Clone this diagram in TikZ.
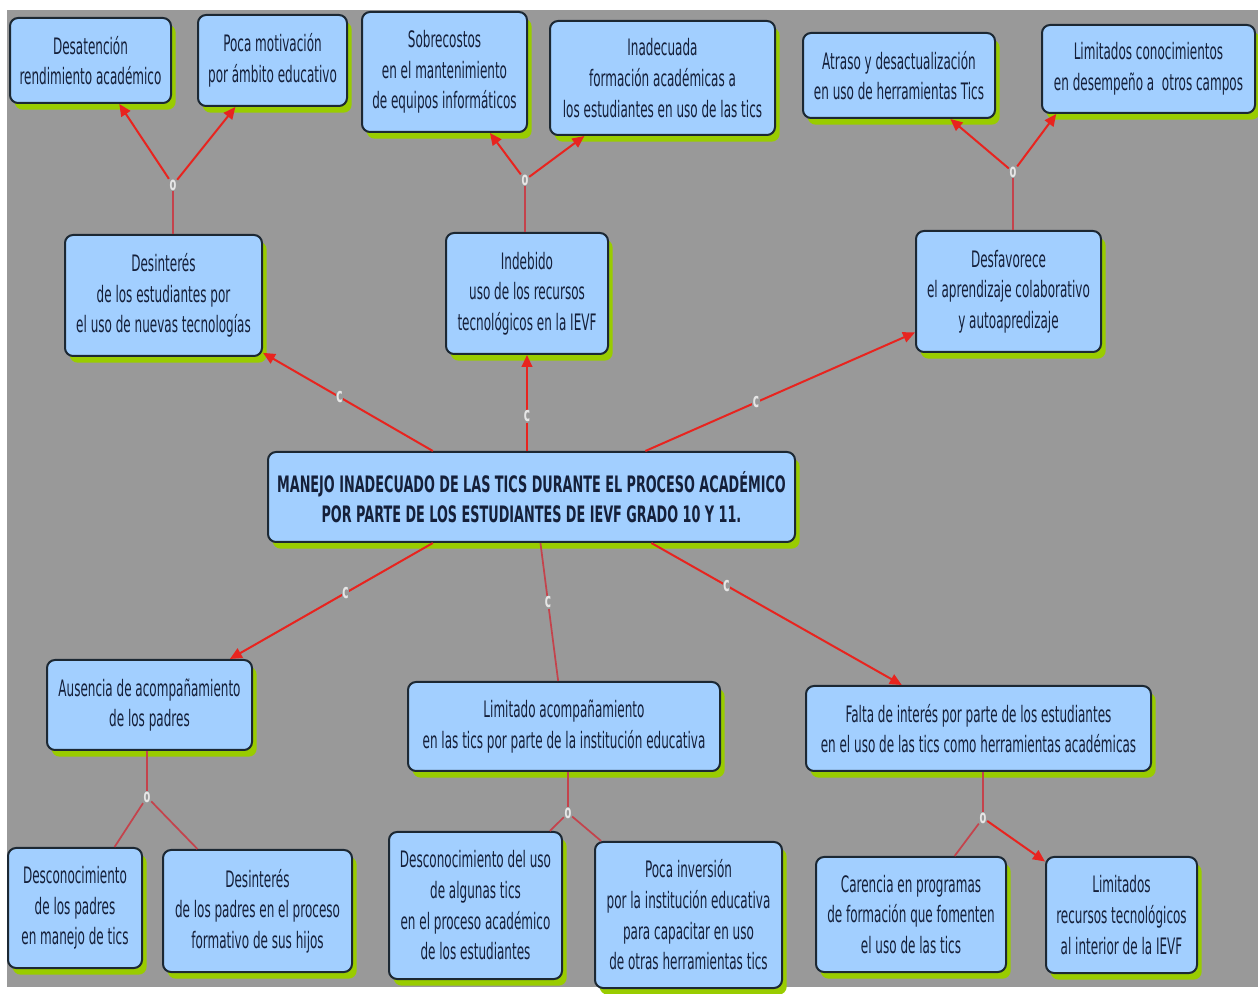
\documentclass[tikz,border=0pt]{standalone}
\usepackage{fontspec}
\setmainfont{DejaVu Sans}[FakeStretch=0.53]
\newfontfamily\titlefont{DejaVu Sans}[FakeStretch=0.565]
\usetikzlibrary{arrows.meta,shadows,calc}
\definecolor{bg}{HTML}{999999}
\definecolor{boxf}{HTML}{A2CFFF}
\definecolor{bdr}{HTML}{1C2833}
\definecolor{shd}{HTML}{99CC00}
\definecolor{txt}{HTML}{15203A}
\definecolor{lred}{HTML}{E8241F}
\definecolor{ldark}{HTML}{C4434C}
\definecolor{labc}{HTML}{E6E6E6}
\tikzset{
  box/.style={draw=bdr, line width=1.5pt, fill=boxf, rounded corners=6pt, align=center,
    text=txt, inner sep=0pt, font=\fontsize{17}{23}\selectfont,
    general shadow={fill=shd, shadow xshift=3.5pt, shadow yshift=-5pt}},
  ar/.style={draw=lred, line width=1.5pt, -{Triangle[length=9pt,width=8pt]}},
  lk/.style={draw=ldark, line width=1.3pt},
  lab/.style={font=\fontsize{15}{15}\selectfont\bfseries, text=labc, fill=bg, inner sep=0.5pt},
  jn/.style={font=\fontsize{14}{14}\selectfont\bfseries, text=labc, fill=bg, inner sep=0.4pt}
}
\newcommand{\bx}[7][]{%
  \pgfmathsetmacro\bxcx{(#3+#5)/2}\pgfmathsetmacro\bxcy{(#4+#6)/2}%
  \pgfmathsetmacro\bxw{(#5-#3)*0.75}\pgfmathsetmacro\bxh{(#6-#4)*0.75}%
  \node[box, minimum width=\bxw pt, minimum height=\bxh pt, #1] (#2) at (\bxcx,\bxcy) {#7};}
\begin{document}
\begin{tikzpicture}[x=0.75pt, y=-0.75pt]
\useasboundingbox (0,0) rectangle (1258,994);
\fill[bg] (7,10) rectangle (1258,987);

\bx{desat}{10}{18}{171}{103}{Desatención\\rendimiento académico}
\bx{pocam}{198}{15}{347}{106}{Poca motivación\\por ámbito educativo}
\bx{sobre}{362}{12}{527}{132}{Sobrecostos\\en el mantenimiento\\de equipos informáticos}
\bx{inad}{550}{21}{775}{135}{Inadecuada\\formación académicas a\\los estudiantes en uso de las tics}
\bx{atraso}{803}{33}{995}{118}{Atraso y desactualización\\en uso de herramientas Tics}
\bx{lcon}{1042}{25}{1255}{113}{Limitados conocimientos\\en desempeño a \ otros campos}
\bx{desint}{65}{235}{262}{356}{Desinterés\\de los estudiantes por\\el uso de nuevas tecnologías}
\bx{indeb}{446}{233}{608}{354}{Indebido\\uso de los recursos\\tecnológicos en la IEVF}
\bx{desfav}{916}{231}{1101}{352}{Desfavorece\\el aprendizaje colaborativo\\y autoapredizaje}
\bx[font=\fontsize{17}{23}\titlefont\bfseries]{main}{268}{452}{795}{542}{MANEJO INADECUADO DE LAS TICS DURANTE EL PROCESO ACADÉMICO\\POR PARTE DE LOS ESTUDIANTES DE IEVF GRADO 10 Y 11.}
\bx{aus}{47}{660}{252}{750}{Ausencia de acompañamiento\\de los padres}
\bx{descp}{8}{848}{142}{968}{Desconocimiento\\de los padres\\en manejo de tics}
\bx{desip}{163}{850}{352}{972}{Desinterés\\de los padres en el proceso\\formativo de sus hijos}
\bx{limac}{408}{682}{720}{771}{Limitado acompañamiento\\en las tics por parte de la institución educativa}
\bx{descu}{389}{832}{562}{979}{Desconocimiento del uso\\de algunas tics\\en el proceso académico\\de los estudiantes}
\bx{pocai}{595}{842}{782}{988}{Poca inversión\\por la institución educativa\\para capacitar en uso\\de otras herramientas tics}
\bx{falta}{806}{686}{1151}{771}{Falta de interés por parte de los estudiantes\\en el uso de las tics como herramientas académicas}
\bx{caren}{816}{857}{1006}{972}{Carencia en programas\\de formación que fomenten\\el uso de las tics}
\bx{lrec}{1046}{857}{1197}{973}{Limitados\\recursos tecnológicos\\al interior de la IEVF}

\node[jn] (j1) at (173,185) {o};
\node[jn] (j2) at (525,180) {o};
\node[jn] (j3) at (1013,172) {o};
\node[jn] (j4) at (147,797) {o};
\node[jn] (j5) at (568,813) {o};
\node[jn] (j6) at (983,818) {o};

\draw[lk] (desint.north -| j1) -- (j1);
\draw[ar] (j1) -- (desat);
\draw[ar] (j1) -- (pocam);
\draw[lk] (indeb.north -| j2) -- (j2);
\draw[ar] (j2) -- (sobre);
\draw[ar] (j2) -- (inad);
\draw[lk] (desfav.north -| j3) -- (j3);
\draw[ar] (j3) -- (atraso);
\draw[ar] (j3) -- (lcon.206);

\draw[ar] (main.155) -- node[lab,pos=0.55]{c} (desint);
\draw[ar] (main.north -| indeb) -- node[lab,pos=0.36]{c} (indeb.south);
\draw[ar] (main.22) -- node[lab,pos=0.41]{c} (desfav);
\draw[ar] (main.205) -- node[lab,pos=0.43]{c} (aus);
\draw[lk] (main.281) -- node[lab,pos=0.43]{c} (limac);
\draw[ar] (main.339) -- node[lab,pos=0.3]{c} (falta);

\draw[lk] (aus.south -| j4) -- (j4);
\draw[lk] (j4) -- (descp);
\draw[lk] (j4) -- (desip);
\draw[lk] (limac.south -| j5) -- (j5);
\draw[lk] (j5) -- (descu);
\draw[lk] (j5) -- (pocai);
\draw[lk] (falta.south -| j6) -- (j6);
\draw[lk] (j6) -- (caren);
\draw[ar] (j6) -- (lrec);
\end{tikzpicture}
\end{document}
